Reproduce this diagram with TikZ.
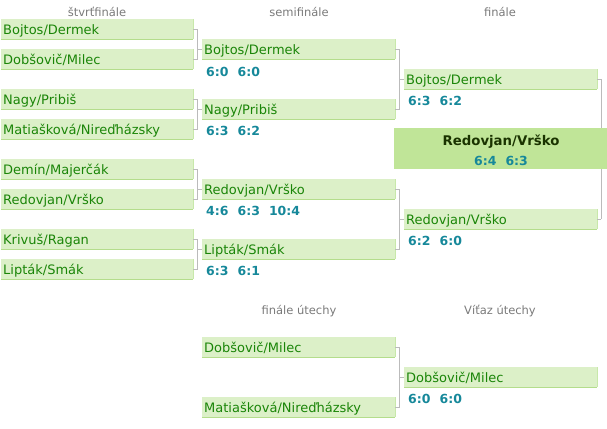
\documentclass[tikz,border=0pt]{standalone}
\usepackage{fontspec}
\setmainfont{DejaVu Sans}
\definecolor{boxfill}{HTML}{DCF0C8}
\definecolor{boxline}{HTML}{B4DD8C}
\definecolor{boxside}{HTML}{C8E8AA}
\definecolor{champfill}{HTML}{C0E598}
\definecolor{teamgreen}{HTML}{1A8508}
\definecolor{scoreteal}{HTML}{16889A}
\definecolor{headgray}{HTML}{7A7A7A}
\definecolor{conngray}{HTML}{BBBBBB}
\definecolor{champtext}{HTML}{1A3300}
\newcommand{\scorefont}{\bfseries\fontsize{12.5}{15}\selectfont}
\newcommand{\sgap}{\hspace{0.72em}}
\tikzset{
  team/.style={rectangle, anchor=north west, fill=boxfill,
    minimum height=20pt, inner xsep=2pt, inner ysep=0pt, text=teamgreen,
    font=\fontsize{13}{15}\selectfont, align=left, text depth=0pt},
  qf/.style={team, minimum width=192pt, text width=188pt},
  sf/.style={team, minimum width=193pt, text width=189pt},
  score/.style={anchor=west, inner sep=0pt, text=scoreteal, font=\scorefont},
  head/.style={inner sep=0pt, text=headgray, font=\fontsize{11.5}{14}\selectfont},
  conn/.style={draw=conngray, line width=0.9pt},
  bottomedge/.style={draw=boxline, line width=1.2pt},
  sideedge/.style={draw=boxside, line width=0.8pt},
}
\begin{document}
\begin{tikzpicture}[x=1pt,y=-1pt]
\useasboundingbox (0,0) rectangle (607,428);
% headers
\node[head] (h1) at (97,12) {štvrťfinále};
\node[head] (h2) at (299,12) {semifinále};
\node[head] (h3) at (500,12) {finále};
\node[head] (h4) at (299,311) {finále útechy};
\node[head] (h5) at (500,311) {Víťaz útechy};
% quarterfinals
\node[qf] (q1) at (1,19) {Bojtos/Dermek};
\node[qf] (q2) at (1,49) {Dobšovič/Milec};
\node[qf] (q3) at (1,89) {Nagy/Pribiš};
\node[qf] (q4) at (1,119) {Matiašková/Nireďházsky};
\node[qf] (q5) at (1,159) {Demín/Majerčák};
\node[qf] (q6) at (1,189) {Redovjan/Vrško};
\node[qf] (q7) at (1,229) {Krivuš/Ragan};
\node[qf] (q8) at (1,259) {Lipták/Smák};
% semifinals
\node[sf] (s1) at (202,39) {Bojtos/Dermek};
\node[sf] (s2) at (202,99) {Nagy/Pribiš};
\node[sf] (s3) at (202,179) {Redovjan/Vrško};
\node[sf] (s4) at (202,239) {Lipták/Smák};
\node[score] (ss1) at (206,72) {6:0\sgap 6:0};
\node[score] (ss2) at (206,131) {6:3\sgap 6:2};
\node[score] (ss3) at (206,211) {4:6\sgap 6:3\sgap 10:4};
\node[score] (ss4) at (206,271) {6:3\sgap 6:1};
% finals
\node[sf] (f1) at (404,69) {Bojtos/Dermek};
\node[sf] (f2) at (404,209) {Redovjan/Vrško};
\node[score] (fs1) at (408,101) {6:3\sgap 6:2};
\node[score] (fs2) at (408,241) {6:2\sgap 6:0};
% consolation
\node[sf] (c1) at (202,337) {Dobšovič/Milec};
\node[sf] (c2) at (202,397) {Matiašková/Nireďházsky};
\node[sf] (cw) at (404,367) {Dobšovič/Milec};
\node[score] (cs) at (408,399) {6:0\sgap 6:0};
% box edges
\foreach \n in {q1,q2,q3,q4,q5,q6,q7,q8,s1,s2,s3,s4,f1,f2,c1,c2,cw} {
  \draw[sideedge] (\n.north east) -- (\n.south east);
  \draw[bottomedge] (\n.south west) -- (\n.south east);
}
% connectors
\draw[conn] (q1.east) -- ++(4,0) |- (s1.west);
\draw[conn] (q2.east) -- ++(4,0) |- (s1.west);
\draw[conn] (q3.east) -- ++(4,0) |- (s2.west);
\draw[conn] (q4.east) -- ++(4,0) |- (s2.west);
\draw[conn] (q5.east) -- ++(4,0) |- (s3.west);
\draw[conn] (q6.east) -- ++(4,0) |- (s3.west);
\draw[conn] (q7.east) -- ++(4,0) |- (s4.west);
\draw[conn] (q8.east) -- ++(4,0) |- (s4.west);
\draw[conn] (s1.east) -- ++(4,0) |- (f1.west);
\draw[conn] (s2.east) -- ++(4,0) |- (f1.west);
\draw[conn] (s3.east) -- ++(4,0) |- (f2.west);
\draw[conn] (s4.east) -- ++(4,0) |- (f2.west);
\draw[conn] (c1.east) -- ++(4,0) |- (cw.west);
\draw[conn] (c2.east) -- ++(4,0) |- (cw.west);
\draw[conn] (f1.east) -- ++(4,0) coordinate (fr1);
\draw[conn] (f2.east) -- ++(4,0) coordinate (fr2);
\draw[conn] (fr1) -- (fr2);
% champion
\node[rectangle, anchor=north west, fill=champfill, minimum width=213pt, minimum height=41pt, inner sep=0pt] (champ) at (394,128) {};
\node[inner sep=0pt, text=champtext, font=\bfseries\fontsize{13.3}{15}\selectfont] (cn) at (501,142) {Redovjan/Vrško};
\node[inner sep=0pt, text=scoreteal, font=\scorefont] (csc) at (501,161) {6:4\sgap 6:3};
\end{tikzpicture}
\end{document}
